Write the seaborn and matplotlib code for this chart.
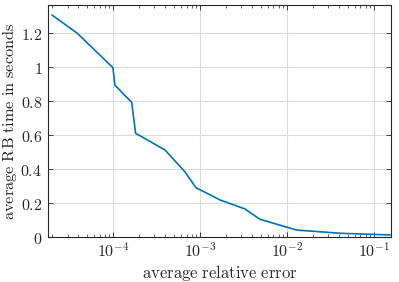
import math
import matplotlib
matplotlib.use("Agg")
import matplotlib.pyplot as plt
import matplotlib.ticker as mticker
import seaborn as sns
import pandas as pd

sns.set_style("ticks")
plt.rcParams["mathtext.fontset"] = "cm"
plt.rcParams["font.family"] = ["DejaVu Serif"]

# data
rel_error = [1.99e-5, 3.86e-5, 1.0e-4, 1.05e-4, 1.64e-4, 1.82e-4, 3.96e-4,
             6.7e-4, 9.0e-4, 1.7e-3, 3.29e-3, 4.9e-3, 1.29e-2, 4.07e-2, 0.153]
rb_time = [1.306, 1.2, 0.996, 0.894, 0.792, 0.61, 0.512,
           0.384, 0.29, 0.218, 0.165, 0.104, 0.041, 0.022, 0.012]
y_ticks = [0, 0.2, 0.4, 0.6, 0.8, 1.0, 1.2]
x_ticks = [1e-4, 1e-3, 1e-2, 1e-1]

df = pd.DataFrame({"err": rel_error, "time": rb_time})

fig = plt.figure(figsize=(3.99, 2.82), dpi=100)
ax = fig.add_axes([48 / 399, 45 / 282, 343 / 399, 232 / 282])

sns.lineplot(data=df, x="err", y="time", ax=ax, color="#0072BD",
             linewidth=1.2, sort=False)

ax.set_xscale("log")
ax.set_xlim(1.79e-5, 0.157)
ax.set_ylim(0, 1.365)

ax.set_xticks(x_ticks)
ax.xaxis.set_minor_locator(mticker.LogLocator(base=10, subs=range(2, 10), numticks=20))
ax.xaxis.set_minor_formatter(mticker.NullFormatter())
ax.xaxis.set_major_formatter(mticker.FuncFormatter(
    lambda v, p: r"$10^{%d}$" % round(math.log10(v))))
ax.set_yticks(y_ticks)
ax.yaxis.set_major_formatter(mticker.FuncFormatter(
    lambda v, p: r"$\mathrm{%s}$" % ("%g" % v)))

ax.grid(True, which="major", color="#dcdcdc", linewidth=0.8)
ax.tick_params(which="both", direction="in", top=True, right=True,
               labelsize=11.5, color="#262626")
ax.tick_params(which="major", length=3.5, width=0.6, pad=4)
ax.tick_params(which="minor", length=2, width=0.5)
for s in ax.spines.values():
    s.set_color("#262626")
    s.set_linewidth(0.8)

ax.set_xlabel(r"$\mathrm{average\ relative\ error}$", fontsize=12)
ax.set_ylabel(r"$\mathrm{average\ RB\ time\ in\ seconds}$", fontsize=11.8)
ax.xaxis.set_label_coords(0.5, -0.113)
ax.yaxis.set_label_coords(-0.086, 0.5)

fig.savefig("out.png", dpi=100)
